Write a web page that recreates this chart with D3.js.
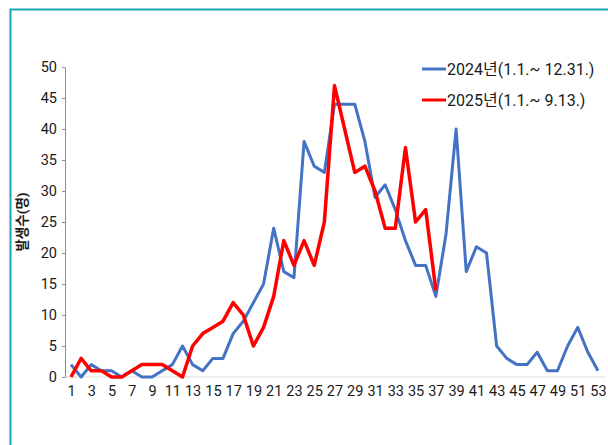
<!DOCTYPE html>
<html>
<head>
<meta charset="utf-8">
<script src="https://cdn.jsdelivr.net/npm/d3@7"></script>
<style>
  body { margin: 0; background: #fff; }
  svg text { font-family: Roboto, "Noto Sans CJK KR", sans-serif; fill: #1a1a1a; }
</style>
</head>
<body>
<div id="chart"></div>
<script>
/* DATA */
const weeks = d3.range(1, 54);
const xTickLabels = d3.range(1, 54, 2);
const yTicks = [0, 5, 10, 15, 20, 25, 30, 35, 40, 45, 50];

const series2024 = [2, 0, 2, 1, 1, 0, 1, 0, 0, 1, 2, 5, 2, 1, 3, 3, 7, 9, 12, 15,
  24, 17, 16, 38, 34, 33, 44, 44, 44, 38, 29, 31, 27, 22, 18, 18, 13, 23, 40, 17,
  21, 20, 5, 3, 2, 2, 4, 1, 1, 5, 8, 4, 1];
const series2025 = [0, 3, 1, 1, 0, 0, 1, 2, 2, 2, 1, 0, 5, 7, 8, 9, 12, 10, 5, 8,
  13, 22, 18, 22, 18, 25, 47, 40, 33, 34, 30, 24, 24, 37, 25, 27, 14];

const legendNames = ["2024년(1.1.~ 12.31.)", "2025년(1.1.~ 9.13.)"];
const yLabel = "발생수(명)";

/* CONSTANTS */
const width = 608, height = 445;
const margin = { top: 67, bottom: 68, left: 65, right: 5 };

const svg = d3.select("#chart")
  .append("svg")
  .attr("width", width)
  .attr("height", height);

// frame
svg.append("path")
  .attr("d", `M10.5,${height} V9.5 H${width}`)
  .attr("fill", "none")
  .attr("stroke", "#1ba4b5")
  .attr("stroke-width", 2);

/* SCALES */
const xScale = d3.scaleLinear()
  .domain([1, 53])
  .range([71, 598]);

const yScale = d3.scaleLinear()
  .domain([0, 50])
  .range([height - margin.bottom, margin.top]);

/* AXES */
// baseline
svg.append("line")
  .attr("x1", margin.left)
  .attr("x2", 605)
  .attr("y1", yScale(0))
  .attr("y2", yScale(0))
  .attr("stroke", "#d9d9d9")
  .attr("stroke-width", 1);

const xAxis = d3.axisBottom(xScale)
  .tickValues(xTickLabels)
  .tickSize(0)
  .tickPadding(9)
  .tickFormat(d3.format("d"));

svg.append("g")
  .attr("class", "x-axis")
  .attr("transform", `translate(0,${yScale(0)})`)
  .call(xAxis)
  .call(g => g.select(".domain").remove())
  .selectAll("text")
  .attr("font-size", 14.5);

const yAxis = d3.axisLeft(yScale)
  .tickValues(yTicks)
  .tickSize(3)
  .tickSizeOuter(0)
  .tickPadding(5);

svg.append("g")
  .attr("class", "y-axis")
  .attr("transform", `translate(${margin.left},0)`)
  .call(yAxis)
  .call(g => g.select(".domain").attr("stroke", "#8c8c8c"))
  .call(g => g.selectAll(".tick line").attr("stroke", "#8c8c8c"))
  .selectAll("text")
  .attr("font-size", 14.5);

svg.append("text")
  .attr("transform", `translate(27,${(yScale(0) + yScale(50)) / 2}) rotate(-90)`)
  .attr("text-anchor", "middle")
  .attr("font-size", 13.5)
  .attr("font-weight", "bold")
  .text(yLabel);

/* LINES */
const lineFunc = d3.line()
  .x((d, i) => xScale(weeks[i]))
  .y(d => yScale(d));

svg.append("path")
  .datum(series2024)
  .attr("fill", "none")
  .attr("stroke", "#4472c4")
  .attr("stroke-width", 3)
  .attr("stroke-linejoin", "round")
  .attr("d", lineFunc);

svg.append("path")
  .datum(series2025)
  .attr("fill", "none")
  .attr("stroke", "#ff0000")
  .attr("stroke-width", 3.5)
  .attr("stroke-linejoin", "round")
  .attr("d", lineFunc);

/* LEGEND */
const legend = svg.append("g")
  .selectAll("g")
  .data([{ name: legendNames[0], color: "#4472c4" }, { name: legendNames[1], color: "#ff0000" }])
  .join("g")
  .attr("transform", (d, i) => `translate(422,${69 + i * 31})`);

legend.append("line")
  .attr("x1", 0)
  .attr("x2", 24)
  .attr("stroke", d => d.color)
  .attr("stroke-width", 3);

legend.append("text")
  .attr("x", 25)
  .attr("dy", "0.35em")
  .attr("font-size", 16)
  .text(d => d.name);
</script>
</body>
</html>
